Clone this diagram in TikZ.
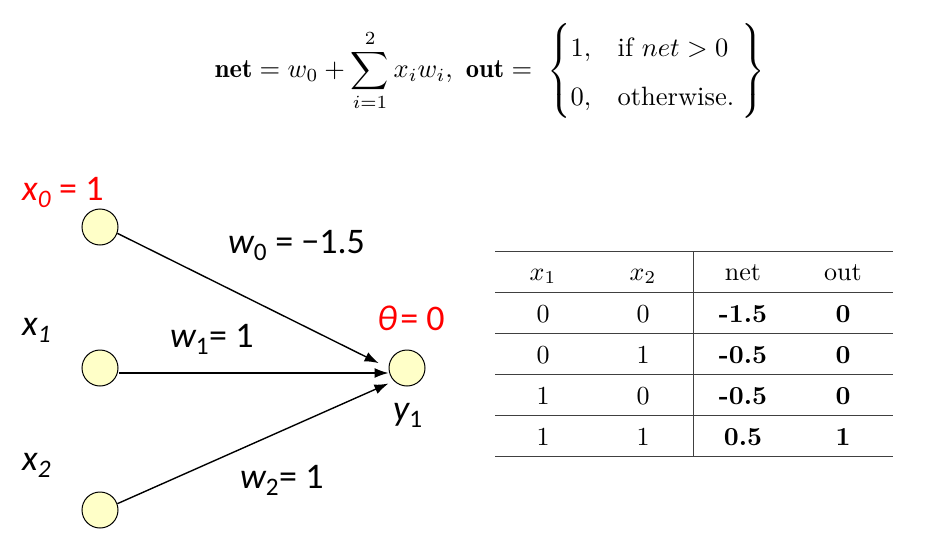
\documentclass[tikz,border=0pt]{standalone}
\usepackage{amsmath}
\usepackage{fontspec}
\usetikzlibrary{arrows.meta}
\newfontfamily\lblfont{Carlito}
\definecolor{nodefill}{RGB}{255,255,200}
\tikzset{
  unit/.style={circle, draw=black, fill=nodefill, minimum size=36pt, inner sep=0pt, line width=1pt},
  lbl/.style={font=\lblfont\fontsize{36}{42}\selectfont, inner sep=0pt, anchor=base west},
  wire/.style={-{Latex[length=14pt,width=10pt]}, line width=1.4pt},
  cell/.style={scale=2.6, inner sep=0pt, anchor=base},
  rule/.style={line width=0.9pt, black!75}
}
\begin{document}
\begin{tikzpicture}[x=1pt,y=-1pt]
\useasboundingbox (0,0) rectangle (928,543);
% formula
\node[inner sep=0pt, scale=2.65] (formula) at (490,71) {%
  $\displaystyle \mathbf{net} = w_0 + \sum_{i=1}^{2} x_i w_i,\ \mathbf{out} = \;
  \left\{\vrule height 17pt depth 15pt width 0pt\renewcommand{\arraystretch}{1.55}\begin{array}{@{}l@{\quad}l@{}} 1, & \text{if } net > 0\\ 0, & \text{otherwise.}\end{array}\;\right\}$};
% network
\node[unit] (in0) at (100,227) {};
\node[unit] (in1) at (100,368) {};
\node[unit] (in2) at (100,510) {};
\node[unit] (out1) at (407,368) {};
\node[lbl, text=red] (lx0) at (22,200) {\itshape x\textsubscript{0}\upshape{} = 1};
\node[lbl] (lx1) at (22,335) {\itshape x\textsubscript{1}};
\node[lbl] (lx2) at (22,470) {\itshape x\textsubscript{2}};
\node[lbl, text=red] (ltheta) at (377,330) {\itshape θ\upshape\hspace{3pt}= 0};
\node[lbl] (ly1) at (393,420) {\itshape y\upshape\textsubscript{1}};
\node[lbl] (lw0) at (228,253) {\itshape w\upshape\textsubscript{0} = −1.5};
\node[lbl] (lw1) at (170,347) {\itshape w\upshape\textsubscript{1}= 1};
\node[lbl] (lw2) at (240,488) {\itshape w\upshape\textsubscript{2}= 1};
\draw[wire, shorten >=11pt] (in0.-20) -- (out1.west);
\draw[wire] ([yshift=-5pt]in1.east) -- ([yshift=-5pt]out1.west);
\draw[wire, shorten >=6pt] (in2.20) -- (out1.south west);
% truth table
\foreach \y in {251,292,333,374,415,456}
  \draw[rule] (495,\y) -- (893,\y);
\draw[rule] (693,251) -- (693,456);
\node[cell] (h1) at (543,280) {$x_1$};
\node[cell] (h2) at (643,280) {$x_2$};
\node[cell] (h3) at (743,280) {net};
\node[cell] (h4) at (843,280) {out};
\foreach \a/\b/\n/\o [count=\r] in {0/0/-1.5/0, 0/1/-0.5/0, 1/0/-0.5/0, 1/1/0.5/1} {
  \node[cell] (a\r) at (543,281+41*\r) {\a};
  \node[cell] (b\r) at (643,281+41*\r) {\b};
  \node[cell] (n\r) at (743,281+41*\r) {\textbf{\n}};
  \node[cell] (o\r) at (843,281+41*\r) {\textbf{\o}};
}
\end{tikzpicture}
\end{document}
